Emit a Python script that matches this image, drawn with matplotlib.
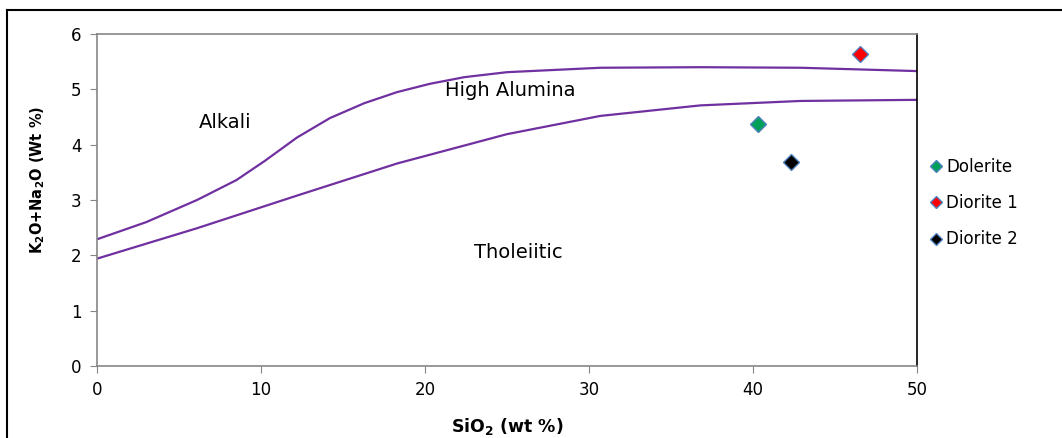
import matplotlib
matplotlib.use("Agg")
import matplotlib.pyplot as plt
from matplotlib.lines import Line2D

upper_x = [0, 3.0, 6.1, 8.5, 10.2, 12.2, 14.2, 16.3, 18.3, 20.3, 22.4, 25.0, 30.7, 36.8, 42.9, 50]
upper_y = [2.29, 2.6, 3.0, 3.36, 3.70, 4.13, 4.48, 4.75, 4.95, 5.10, 5.22, 5.31, 5.39, 5.40, 5.39, 5.33]
lower_x = [0, 6.1, 12.2, 18.3, 25.0, 30.7, 36.8, 42.9, 50]
lower_y = [1.94, 2.49, 3.08, 3.66, 4.19, 4.52, 4.71, 4.79, 4.81]

sample_names = ["Dolerite", "Diorite 1", "Diorite 2"]
sample_x = [40.3, 46.5, 42.3]
sample_y = [4.38, 5.63, 3.69]
sample_colors = ["#00A05A", "#FF0000", "#000000"]

xticks = [0, 10, 20, 30, 40, 50]
yticks = [0, 1, 2, 3, 4, 5, 6]

fig = plt.figure(figsize=(10.62, 4.38), dpi=100)
ax = fig.add_axes([97/1062, 1-366/438, 820/1062, 332/438])

purple = "#7030A0"
ax.plot(upper_x, upper_y, color=purple, lw=1.6, solid_joinstyle="round")
ax.plot(lower_x, lower_y, color=purple, lw=1.6, solid_joinstyle="round")

for n, x, y, c in zip(sample_names, sample_x, sample_y, sample_colors):
    ax.plot([x], [y], marker="D", ms=8, mfc=c, mec="#4F81BD", mew=1.0, ls="none")

ax.set_xlim(0, 50)
ax.set_ylim(0, 6)
ax.set_xticks(xticks)
ax.set_yticks(yticks)
ax.tick_params(direction="out", length=5, color="#868686", labelsize=12, pad=6)
for s in ["left", "bottom", "top"]:
    ax.spines[s].set_color("#868686")
    ax.spines[s].set_linewidth(1.2)
ax.spines["right"].set_color("black")
ax.spines["right"].set_linewidth(1.2)

ax.set_xlabel("SiO$_\\mathbf{2}$ (wt %)", fontsize=12.5, fontweight="bold", labelpad=12)
ax.set_ylabel("K$_\\mathbf{2}$O+Na$_\\mathbf{2}$O (Wt %)", fontsize=10.5, fontweight="bold")
ax.yaxis.set_label_coords(-0.061, 0.56)

ax.text(6.2, 4.4, "Alkali", fontsize=14, ha="left", va="center")
ax.text(25.2, 4.97, "High Alumina", fontsize=14, ha="center", va="center")
ax.text(25.7, 2.06, "Tholeiitic", fontsize=14, ha="center", va="center")

handles = [Line2D([0], [0], marker="D", ms=6, mfc=c, mec="#4F81BD", mew=1.0, ls="none")
           for c in sample_colors]
fig.legend(handles, sample_names, loc="upper left", bbox_to_anchor=(921/1062, 1-151/438),
           frameon=False, fontsize=12, handletextpad=0.1, labelspacing=1.1,
           handlelength=1.0, borderaxespad=0)

# outer frame (top and left only visible)
fig.add_artist(Line2D([7/1062, 1.0], [1-10/438, 1-10/438], color="black", lw=1.5,
                      transform=fig.transFigure))
fig.add_artist(Line2D([7/1062, 7/1062], [0, 1-10/438], color="black", lw=1.5,
                      transform=fig.transFigure))

fig.savefig("out.png", dpi=100)
